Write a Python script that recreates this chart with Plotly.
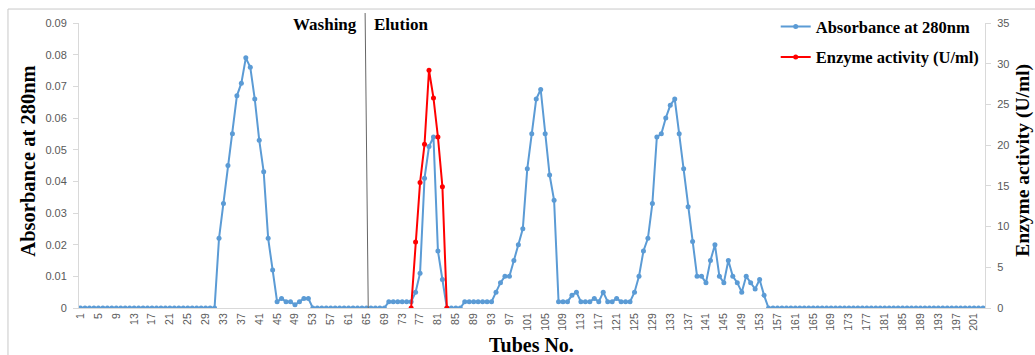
import plotly.graph_objects as go

# ---- data ----
tubes = list(range(1, 204))
absorbance = [
    0, 0, 0, 0, 0, 0, 0, 0, 0, 0,
    0, 0, 0, 0, 0, 0, 0, 0, 0, 0,
    0, 0, 0, 0, 0, 0, 0, 0, 0, 0,
    0, 0.022, 0.033, 0.045, 0.055, 0.067, 0.071, 0.079, 0.076, 0.066,
    0.053, 0.043, 0.022, 0.012, 0.002, 0.003, 0.002, 0.002, 0.001, 0.002,
    0.003, 0.003, 0, 0, 0, 0, 0, 0, 0, 0,
    0, 0, 0, 0, 0, 0, 0, 0, 0, 0.002,
    0.002, 0.002, 0.002, 0.002, 0.002, 0.005, 0.011, 0.041, 0.051, 0.054,
    0.018, 0.009, 0, 0, 0, 0, 0.002, 0.002, 0.002, 0.002,
    0.002, 0.002, 0.002, 0.005, 0.008, 0.010, 0.010, 0.015, 0.020, 0.025,
    0.044, 0.055, 0.066, 0.069, 0.055, 0.042, 0.034, 0.002, 0.002, 0.002,
    0.004, 0.005, 0.002, 0.002, 0.002, 0.003, 0.002, 0.005, 0.002, 0.002,
    0.003, 0.002, 0.002, 0.002, 0.005, 0.010, 0.018, 0.022, 0.033, 0.054,
    0.055, 0.060, 0.064, 0.066, 0.055, 0.044, 0.032, 0.021, 0.010, 0.010,
    0.008, 0.015, 0.020, 0.010, 0.008, 0.015, 0.010, 0.008, 0.005, 0.010,
    0.008, 0.006, 0.009, 0.004, 0, 0, 0, 0, 0, 0,
    0, 0, 0, 0, 0, 0, 0, 0, 0, 0,
    0, 0, 0, 0, 0, 0, 0, 0, 0, 0,
    0, 0, 0, 0, 0, 0, 0, 0, 0, 0,
    0, 0, 0, 0, 0, 0, 0, 0, 0, 0,
    0, 0, 0,
]
enzyme_tubes = [75, 76, 77, 78, 79, 80, 81, 82, 83]
enzyme_activity = [0, 8.1, 15.4, 20.1, 29.2, 25.8, 21.0, 14.9, 0]

x_tick_vals = list(range(1, 202, 4))
x_tick_text = [str(v) for v in x_tick_vals]
left_ticks = [0, 0.01, 0.02, 0.03, 0.04, 0.05, 0.06, 0.07, 0.08, 0.09]
right_ticks = [0, 5, 10, 15, 20, 25, 30, 35]
boundary_tube = 65

serif = "Liberation Serif"
sans = "Liberation Sans"
tick_color = "#595959"
axis_color = "#d9d9d9"

fig = go.Figure()
fig.add_trace(go.Scatter(
    x=tubes, y=absorbance, mode="lines+markers",
    name="<b>Absorbance at 280nm</b>", legendgroup="a",
    line=dict(color="#5b9bd5", width=2),
    marker=dict(color="#5b9bd5", size=5, symbol="circle"),
    yaxis="y",
))
fig.add_trace(go.Scatter(
    x=enzyme_tubes, y=enzyme_activity, mode="lines+markers",
    name="<b>Enzyme activity (U/ml)</b>", legendgroup="b",
    line=dict(color="#ff0000", width=2),
    marker=dict(color="#ff0000", size=5, symbol="circle"),
    yaxis="y2",
))

fig.update_layout(
    width=1035, height=355,
    margin=dict(l=79, r=50, t=23, b=47, autoexpand=False),
    paper_bgcolor="white", plot_bgcolor="white",
    showlegend=True,
    legend=dict(
        x=0.769, y=1.048, xanchor="left", yanchor="top",
        bgcolor="rgba(0,0,0,0)",
        font=dict(family=serif, size=16.5, color="black"),
        tracegroupgap=6, itemwidth=30,
    ),
    xaxis=dict(
        range=[0.66, 203.45], tickmode="array",
        tickvals=x_tick_vals, ticktext=x_tick_text, tickangle=-90,
        tickfont=dict(family=sans, size=10.5, color=tick_color),
        showgrid=False, zeroline=False,
        showline=True, linecolor=axis_color, linewidth=1,
        ticks="", automargin=False,
    ),
    yaxis=dict(
        range=[0, 0.09], tickmode="array", tickvals=left_ticks,
        ticktext=[("%g" % v) for v in left_ticks],
        tickfont=dict(family=sans, size=11, color=tick_color),
        showgrid=False, zeroline=False,
        showline=True, linecolor=axis_color, linewidth=1,
        ticks="outside", ticklen=5, tickcolor=axis_color,
        ticklabelstandoff=4, automargin=False,
    ),
    yaxis2=dict(
        range=[0, 35], tickmode="array", tickvals=right_ticks,
        tickfont=dict(family=sans, size=11, color=tick_color),
        overlaying="y", side="right",
        showgrid=False, zeroline=False,
        showline=True, linecolor=axis_color, linewidth=1,
        ticks="outside", ticklen=5, tickcolor=axis_color,
        ticklabelstandoff=4, automargin=False,
    ),
)

# separation line between washing and elution
fig.add_shape(type="line", xref="x", yref="paper",
              x0=boundary_tube + 0.4, y0=0, x1=boundary_tube - 0.3, y1=1.035,
              line=dict(color="#666666", width=1))

# outer frame (top & left)
fig.add_shape(type="line", xref="paper", yref="paper",
              x0=-0.0784, y0=-0.2, x1=-0.0784, y1=1.049,
              line=dict(color="#c8c8c8", width=1))
fig.add_shape(type="line", xref="paper", yref="paper",
              x0=-0.0784, y0=1.049, x1=1.06, y1=1.049,
              line=dict(color="#c8c8c8", width=1))

fig.add_annotation(text="<b>Washing</b>", xref="x", yref="paper",
                   x=boundary_tube, y=0.993, xanchor="right", yanchor="middle",
                   xshift=-7, showarrow=False,
                   font=dict(family=serif, size=17, color="black"))
fig.add_annotation(text="<b>Elution</b>", xref="x", yref="paper",
                   x=boundary_tube, y=0.993, xanchor="left", yanchor="middle",
                   xshift=6, showarrow=False,
                   font=dict(family=serif, size=17, color="black"))

# axis titles
fig.add_annotation(text="<b>Absorbance at 280nm</b>", xref="paper", yref="paper",
                   x=-0.0563, y=0.517, textangle=-90, showarrow=False,
                   xanchor="center", yanchor="middle",
                   font=dict(family=serif, size=20.5, color="black"))
fig.add_annotation(text="<b>Enzyme activity (U/ml)</b>", xref="paper", yref="paper",
                   x=1.042, y=0.517, textangle=-90, showarrow=False,
                   xanchor="center", yanchor="middle",
                   font=dict(family=serif, size=19.5, color="black"))
fig.add_annotation(text="<b>Tubes No.</b>", xref="paper", yref="paper",
                   x=0.499, y=-0.130, showarrow=False,
                   xanchor="center", yanchor="middle",
                   font=dict(family=serif, size=20, color="black"))

# remove the page's default body margin so the figure fills the window exactly
fig.write_html(
    "out.html",
    config={"displayModeBar": False},
    post_script="document.body.style.margin='0';document.body.style.overflow='hidden';",
)
